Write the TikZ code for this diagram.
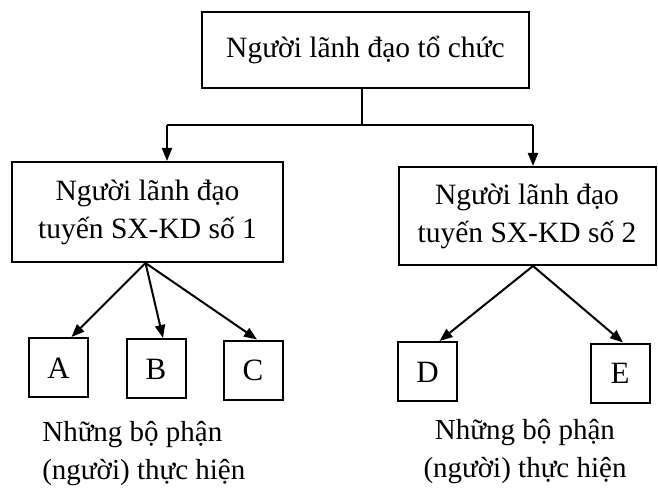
\documentclass[tikz,border=0pt]{standalone}
\usepackage{fontspec}
\setmainfont{Liberation Serif}
\usetikzlibrary{arrows.meta}
\begin{document}
\begin{tikzpicture}[x=1pt,y=-1pt,
  line width=2pt,
  box/.style={draw, inner sep=0pt, align=center},
  leaf/.style={box, minimum width=59pt, minimum height=59pt, text height=21pt, text depth=0pt,
    font=\fontsize{31}{34}\selectfont},
  arrow/.style={-{Triangle[length=13pt,width=10pt]}},
  txt/.style={font=\fontsize{29}{38}\selectfont}]
\useasboundingbox (0,0) rectangle (658,489);

% head of the organisation
\node[box, minimum width=327pt, minimum height=76pt, font=\fontsize{29.5}{38}\selectfont]
  (top) at (365.5,50) {Người lãnh đạo tổ chức};

% line managers
\node[box, minimum width=271pt, minimum height=100pt, font=\fontsize{29.5}{38}\selectfont]
  (b1) at (147.5,212) {Người lãnh đạo\\tuyến SX-KD số 1};
\node[box, minimum width=257pt, minimum height=98pt, font=\fontsize{29.5}{38}\selectfont]
  (b2) at (527,216) {Người lãnh đạo\\tuyến SX-KD số 2};

% executing units
\node[leaf] (A) at (58.5,367.5) {A};
\node[leaf] (B) at (156,368.5) {B};
\node[leaf] (C) at (253,370) {C};
\node[leaf] (D) at (427.5,371.5) {D};
\node[leaf] (E) at (620,373) {E};

% captions
\node[txt, align=left, anchor=west] (capL) at (38,454) {Những bộ phận\\(người) thực hiện};
\node[txt, align=center] (capR) at (525,452) {Những bộ phận\\(người) thực hiện};

% branching from the head
\coordinate (j) at (362,125);
\coordinate (bl) at (167,125);
\coordinate (br) at (533,125);
\draw (top.south -| j) -- (j);
\draw (bl) -- (br);
\draw[arrow] (bl) -- (bl |- b1.north);
\draw[arrow] (br) -- (br |- b2.north);

% branching to the units
\coordinate (s1) at ([xshift=-2pt]b1.south);
\coordinate (s2) at ([xshift=6pt]b2.south);
\draw[arrow] (s1) -- ([xshift=13pt]A.north);
\draw[arrow] (s1) -- ([xshift=7pt]B.north);
\draw[arrow] (s1) -- ([xshift=4pt]C.north);
\draw[arrow] (s2) -- ([xshift=12pt]D.north);
\draw[arrow] (s2) -- ([xshift=3pt]E.north);
\end{tikzpicture}
\end{document}
